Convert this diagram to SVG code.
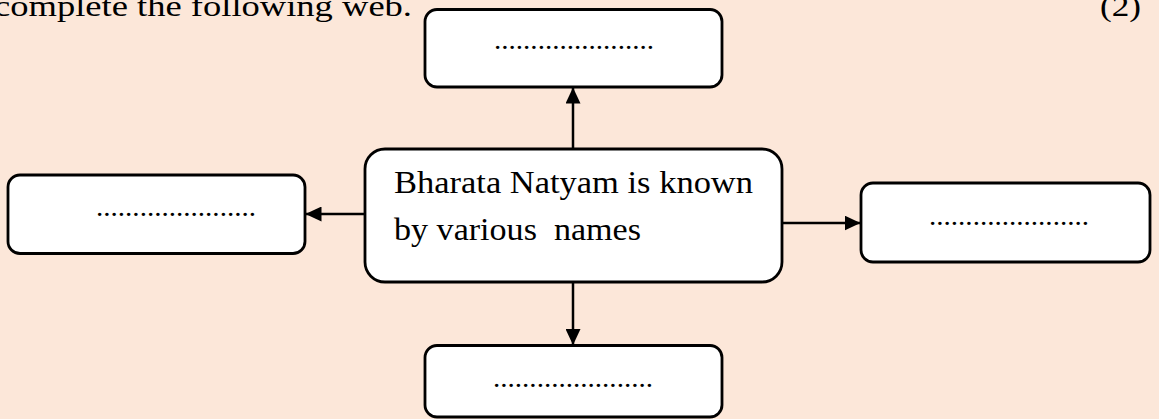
<svg xmlns="http://www.w3.org/2000/svg" width="1159" height="419" viewBox="0 0 1159 419">
<style>
.bg{fill:#FCE7D9}
.box{fill:#FFFFFF;stroke:#000;stroke-width:2.8}
.t{font-family:"Liberation Serif","Times New Roman",serif;fill:#000}
.dots{font-family:"Liberation Serif","Times New Roman",serif;font-size:28px;fill:#000;text-anchor:middle}
.conn line{stroke:#000;stroke-width:2.5;fill:none}
</style>
<defs>
<marker id="arr" viewBox="0 0 16 15" refX="16" refY="7.5" markerWidth="16" markerHeight="15" markerUnits="userSpaceOnUse" orient="auto">
<path d="M0,0 L16,7.5 L0,15 Z" fill="#000"/>
</marker>
</defs>
<rect class="bg" x="0" y="0" width="1159" height="419"/>
<text class="t" x="-6" y="16" font-size="30" textLength="418" lengthAdjust="spacingAndGlyphs">complete the following web.</text>
<text class="t" x="1100" y="16" font-size="30" textLength="41" lengthAdjust="spacingAndGlyphs">(2)</text>
<g class="conn" id="connectors">
<line x1="573" y1="149" x2="573" y2="87.5" marker-end="url(#arr)"/>
<line x1="365" y1="214" x2="305.5" y2="214" marker-end="url(#arr)"/>
<line x1="775" y1="223" x2="860.5" y2="223" marker-end="url(#arr)"/>
<line x1="573" y1="282" x2="573" y2="345" marker-end="url(#arr)"/>
</g>
<g id="center">
<rect class="box" x="365" y="149" width="417" height="133" rx="20" ry="20"/>
<text class="t" x="394" y="193" font-size="31" textLength="359" lengthAdjust="spacingAndGlyphs">Bharata Natyam is known</text>
<text class="t" x="394" y="240" font-size="31" textLength="247" lengthAdjust="spacingAndGlyphs" xml:space="preserve">by various  names</text>
</g>
<g id="top">
<rect class="box" x="425" y="9.5" width="297" height="77.5" rx="12" ry="12"/>
<text class="dots" x="574" y="49" textLength="160" lengthAdjust="spacingAndGlyphs">......................</text>
</g>
<g id="left">
<rect class="box" x="8" y="175" width="297" height="78.5" rx="12" ry="12"/>
<text class="dots" x="176" y="216" textLength="160" lengthAdjust="spacingAndGlyphs">......................</text>
</g>
<g id="right">
<rect class="box" x="861" y="183" width="289" height="79" rx="12" ry="12"/>
<text class="dots" x="1009" y="225" textLength="160" lengthAdjust="spacingAndGlyphs">......................</text>
</g>
<g id="bottom">
<rect class="box" x="425" y="345.5" width="297" height="71.5" rx="12" ry="12"/>
<text class="dots" x="573" y="387" textLength="160" lengthAdjust="spacingAndGlyphs">......................</text>
</g>
</svg>
